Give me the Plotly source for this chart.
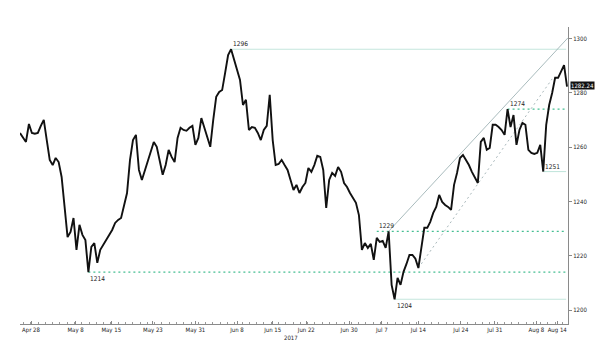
import plotly.graph_objects as go

# Gold spot price, one value per bar (late Apr - mid Aug 2017)
closes = [
    1265.2, 1263.4, 1261.9, 1268.5, 1265.2, 1264.9, 1265.2, 1267.8, 1270.0, 1262.6,
    1255.3, 1253.4, 1256.0, 1254.5, 1249.0, 1238.0, 1226.9, 1228.8, 1233.9, 1222.2,
    1231.4, 1227.7, 1225.8, 1214.0, 1223.3, 1224.7, 1217.4, 1222.2, 1224.0, 1225.8,
    1227.3, 1229.5, 1232.1, 1233.2, 1233.9, 1238.0, 1243.1, 1255.3, 1262.6, 1264.5,
    1251.6, 1247.9, 1251.6, 1255.3, 1259.0, 1261.9, 1260.1, 1254.5, 1249.8, 1253.4,
    1259.0, 1256.4, 1254.5, 1263.4, 1267.1, 1266.3, 1266.0, 1267.1, 1267.8, 1260.8,
    1263.4, 1270.7, 1267.1, 1263.4, 1260.1, 1270.0, 1278.5, 1280.3, 1281.0, 1287.3,
    1293.9, 1296.0, 1292.1, 1288.0, 1284.7, 1275.5, 1277.4, 1266.3, 1267.4, 1267.1,
    1265.2, 1262.6, 1266.3, 1267.8, 1279.2, 1262.6, 1253.4, 1253.8, 1255.3, 1253.4,
    1251.6, 1247.9, 1244.2, 1246.1, 1243.1, 1245.3, 1246.8, 1252.3, 1250.9, 1253.4,
    1256.8, 1256.4, 1251.6, 1237.6, 1247.9, 1250.5, 1249.4, 1252.7, 1250.9, 1246.8,
    1245.3, 1243.1, 1241.3, 1239.5, 1235.0, 1222.2, 1224.7, 1222.9, 1224.4, 1218.5,
    1226.6, 1225.1, 1225.5, 1222.9, 1229.0, 1209.3, 1204.0, 1211.9, 1209.3, 1214.1,
    1217.0, 1220.3, 1220.3, 1218.9, 1215.5, 1222.2, 1230.3, 1230.3, 1232.5, 1235.8,
    1238.0, 1242.4, 1239.8, 1238.7, 1238.0, 1236.9, 1246.1, 1250.5, 1256.0, 1257.1,
    1255.3, 1253.4, 1250.9, 1248.7, 1246.8, 1261.9, 1263.4, 1259.0, 1259.7, 1268.2,
    1268.2, 1267.4, 1266.3, 1264.5, 1274.0, 1267.4, 1271.8, 1260.8, 1266.3, 1268.9,
    1268.2, 1259.0, 1257.9, 1257.5, 1257.9, 1260.8, 1251.0, 1268.2, 1275.5, 1279.9,
    1285.5, 1285.5, 1287.7, 1290.2, 1282.24,
]
bars = list(range(len(closes)))
last_price = closes[-1]

# Date labels along the bar axis
tick_pos = [3.7, 18.7, 30.7, 44.7, 59.0, 73.0, 85.0, 96.3, 110.7, 121.7, 134.0, 148.3, 159.7, 173.7, 180.7]
tick_labels = ["Apr 28", "May 8", "May 15", "May 23", "May 31", "Jun 8", "Jun 15", "Jun 22",
               "Jun 30", "Jul 7", "Jul 14", "Jul 24", "Jul 31", "Aug 8", "Aug 14"]

price_ticks = [1200, 1220, 1240, 1260, 1280, 1300]

# Support / resistance levels: value, first bar, style
level_values = [1296, 1274, 1251, 1229, 1214, 1204]
level_start = [71, 164, 176, 120, 23, 126]
level_dotted = [False, True, False, True, True, False]
level_label_above = [True, True, True, True, False, False]
level_end = 183.7

# Rising channel: upper (solid) and lower (dotted) trend lines
upper_bars = [124, 184.3]
upper_prices = [1229, 1300.2]
lower_bars = [134, 179]
lower_prices = [1215.5, 1285.1]

FONT = "DejaVu Sans Condensed, Liberation Sans Narrow, Liberation Sans, sans-serif"
PALE = "#c4e6dd"
GREEN = "#45bf92"

fig = go.Figure()

for val, start, dotted in zip(level_values, level_start, level_dotted):
    fig.add_trace(go.Scatter(
        x=[start, level_end], y=[val, val], mode="lines",
        line=dict(color=GREEN if dotted else PALE, width=1.2 if dotted else 1.1,
                  dash="2px,3px" if dotted else "solid"),
        hoverinfo="skip", showlegend=False))

fig.add_trace(go.Scatter(
    x=upper_bars, y=upper_prices, mode="lines",
    line=dict(color="#9fb3b5", width=0.9), hoverinfo="skip", showlegend=False))
fig.add_trace(go.Scatter(
    x=lower_bars, y=lower_prices, mode="lines",
    line=dict(color="#9fb0b3", width=0.9, dash="2px,3px"), hoverinfo="skip", showlegend=False))

fig.add_trace(go.Scatter(
    x=bars, y=closes, mode="lines",
    line=dict(color="#111111", width=1.9), showlegend=False))

for val, start, above in zip(level_values, level_start, level_label_above):
    fig.add_annotation(
        x=start, y=val, xref="x", yref="y", text=str(val), showarrow=False,
        xanchor="left", yanchor="bottom" if above else "top",
        yshift=-1 if above else -1,
        font=dict(family=FONT, size=6.5, color="#222222"))

fig.add_annotation(
    x=1, y=last_price, xref="paper", yref="y", text=f"{last_price:.2f}",
    showarrow=False, xanchor="left", yanchor="middle", xshift=2, yshift=1,
    bgcolor="#111111", borderpad=0,
    font=dict(family=FONT, size=6, color="#ffffff"))

fig.add_annotation(
    x=91.3, y=0, xref="x", yref="paper", text="2017", showarrow=False,
    xanchor="center", yanchor="top", yshift=-8,
    font=dict(family=FONT, size=6, color="#222222"))

fig.update_layout(
    width=600, height=348,
    margin=dict(l=20, r=27, t=27, b=24),
    paper_bgcolor="white", plot_bgcolor="white",
    font=dict(family=FONT, size=6, color="#222222"),
    xaxis=dict(
        range=[0, 184.33], tickvals=tick_pos, ticktext=tick_labels, tickangle=0,
        showline=True, linecolor="#8a8a8a", linewidth=1,
        ticks="inside", ticklen=3, tickcolor="#8a8a8a",
        minor=dict(ticks="inside", ticklen=2, dtick=2.45, tick0=1.2, tickcolor="#9a9a9a"),
        showgrid=False, zeroline=False, tickfont=dict(size=6)),
    yaxis=dict(
        side="right", range=[1194.9, 1304.2], tickvals=price_ticks,
        showline=True, linecolor="#8a8a8a", linewidth=1,
        ticks="outside", ticklen=3, tickcolor="#8a8a8a",
        showgrid=False, zeroline=False, tickfont=dict(size=6)),
)

fig.write_html("out.html")
